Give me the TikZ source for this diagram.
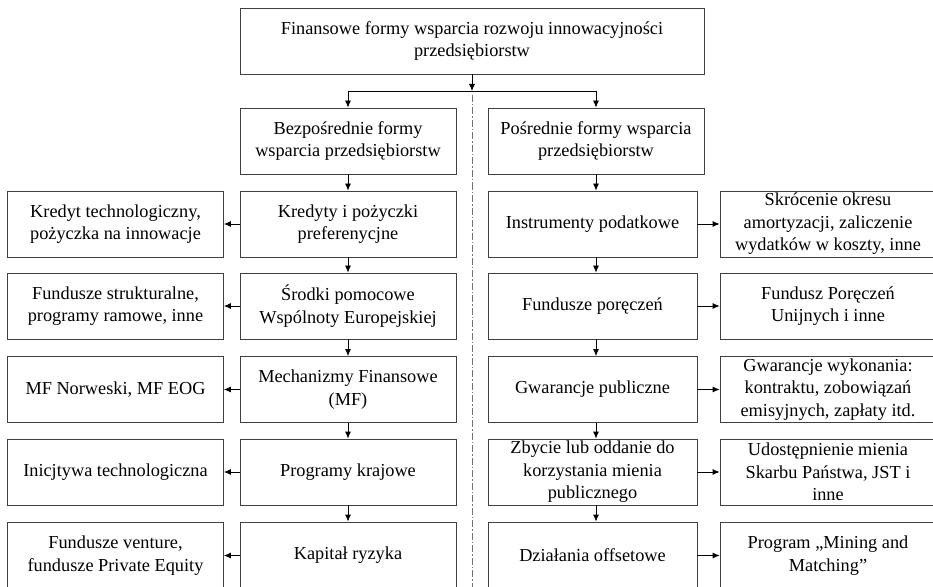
\documentclass[tikz,border=0pt]{standalone}
\usepackage{fontspec}
\setmainfont{Liberation Serif}
\usetikzlibrary{arrows.meta}
\begin{document}
\begin{tikzpicture}[x=1bp,y=-1bp,
  box/.style={draw=black!75, line width=0.8bp, rectangle, align=center, inner sep=0pt,
    font=\fontsize{18.3bp}{22.6bp}\selectfont},
  wbox/.style={box, minimum width=216bp, minimum height=66bp},
  rbox/.style={box, minimum width=209bp, minimum height=66bp},
  lastbox/.style={minimum height=67bp},
  arr/.style={-{Latex[length=7bp,width=6bp]}, line width=0.8bp},
  plain/.style={line width=0.8bp},
  divider/.style={draw=black!55, line width=1bp, dash pattern=on 7bp off 2bp on 1.5bp off 2bp}]
\useasboundingbox (0,0) rectangle (933,587);
\clip (0,0) rectangle (933,587);

% top
\node[box, minimum width=464bp, minimum height=66bp] (top) at (472,41)
  {Finansowe formy wsparcia rozwoju innowacyjności\\przedsiębiorstw};
\node[wbox] (bez) at (348,141) {Bezpośrednie formy\\wsparcia przedsiębiorstw};
\node[wbox] (pos) at (596,141) {Pośrednie formy wsparcia\\przedsiębiorstw};

% left column
\node[wbox] (l1) at (348,224) {Kredyty i pożyczki\\preferenycjne};
\node[wbox] (l2) at (348,306) {Środki pomocowe\\Wspólnoty Europejskiej};
\node[wbox] (l3) at (348,389.5) {Mechanizmy Finansowe\\(MF)};
\node[wbox] (l4) at (348,472) {Programy krajowe};
\node[wbox, lastbox] (l5) at (348,555.5) {Kapitał ryzyka};

\node[wbox] (d1) at (115.5,224) {Kredyt technologiczny,\\pożyczka na innowacje};
\node[wbox] (d2) at (115.5,306) {Fundusze strukturalne,\\programy ramowe, inne};
\node[wbox] (d3) at (115.5,389.5) {MF Norweski, MF EOG};
\node[wbox] (d4) at (115.5,472) {Inicjtywa technologiczna};
\node[wbox, lastbox] (d5) at (115.5,555.5) {Fundusze venture,\\fundusze Private Equity};

% right column
\node[rbox] (r1) at (592.5,224) {Instrumenty podatkowe};
\node[rbox] (r2) at (592.5,306) {Fundusze poręczeń};
\node[rbox] (r3) at (592.5,389.5) {Gwarancje publiczne};
\node[rbox] (r4) at (592.5,472) {Zbycie lub oddanie do\\korzystania mienia\\publicznego};
\node[rbox, lastbox] (r5) at (592.5,555.5) {Działania offsetowe};

\node[wbox] (e1) at (828,224) {Skrócenie okresu\\amortyzacji, zaliczenie\\wydatków w koszty, inne};
\node[wbox] (e2) at (828,306) {Fundusz Poręczeń\\Unijnych i inne};
\node[wbox] (e3) at (828,389.5) {Gwarancje wykonania:\\kontraktu, zobowiązań\\emisyjnych, zapłaty itd.};
\node[wbox] (e4) at (828,472) {Udostępnienie mienia\\Skarbu Państwa, JST i\\inne};
\node[wbox, lastbox] (e5) at (828,555.5) {Program „Mining and\\Matching”};

% split
\coordinate (split) at (472,91);
\draw[divider] ([yshift=-4bp]split) -- (split |- 0,600);
\draw[arr] (top.south) -- (split);
\draw[plain] (split -| bez.north) -- (split -| pos.north);
\draw[arr] (split -| bez.north) -- (bez.north);
\draw[arr] (split -| pos.north) -- (pos.north);

% left verticals
\draw[arr] (bez.south) -- (l1.north);
\draw[arr] (l1.south) -- (l2.north);
\draw[arr] (l2.south) -- (l3.north);
\draw[arr] (l3.south) -- (l4.north);
\draw[arr] (l4.south) -- (l5.north);

% right verticals
\draw[arr] (pos.south) -- (pos.south |- r1.north);
\draw[arr] (r1.south -| pos.south) -- (r2.north -| pos.south);
\draw[arr] (r2.south -| pos.south) -- (r3.north -| pos.south);
\draw[arr] (r3.south -| pos.south) -- (r4.north -| pos.south);
\draw[arr] (r4.south -| pos.south) -- (r5.north -| pos.south);

% horizontals
\draw[arr] (l1.west) -- (d1.east);
\draw[arr] (l2.west) -- (d2.east);
\draw[arr] (l3.west) -- (d3.east);
\draw[arr] (l4.west) -- (d4.east);
\draw[arr] (l5.west) -- (d5.east);
\draw[arr] (r1.east) -- (e1.west);
\draw[arr] (r2.east) -- (e2.west);
\draw[arr] (r3.east) -- (e3.west);
\draw[arr] (r4.east) -- (e4.west);
\draw[arr] (r5.east) -- (e5.west);
\end{tikzpicture}
\end{document}
